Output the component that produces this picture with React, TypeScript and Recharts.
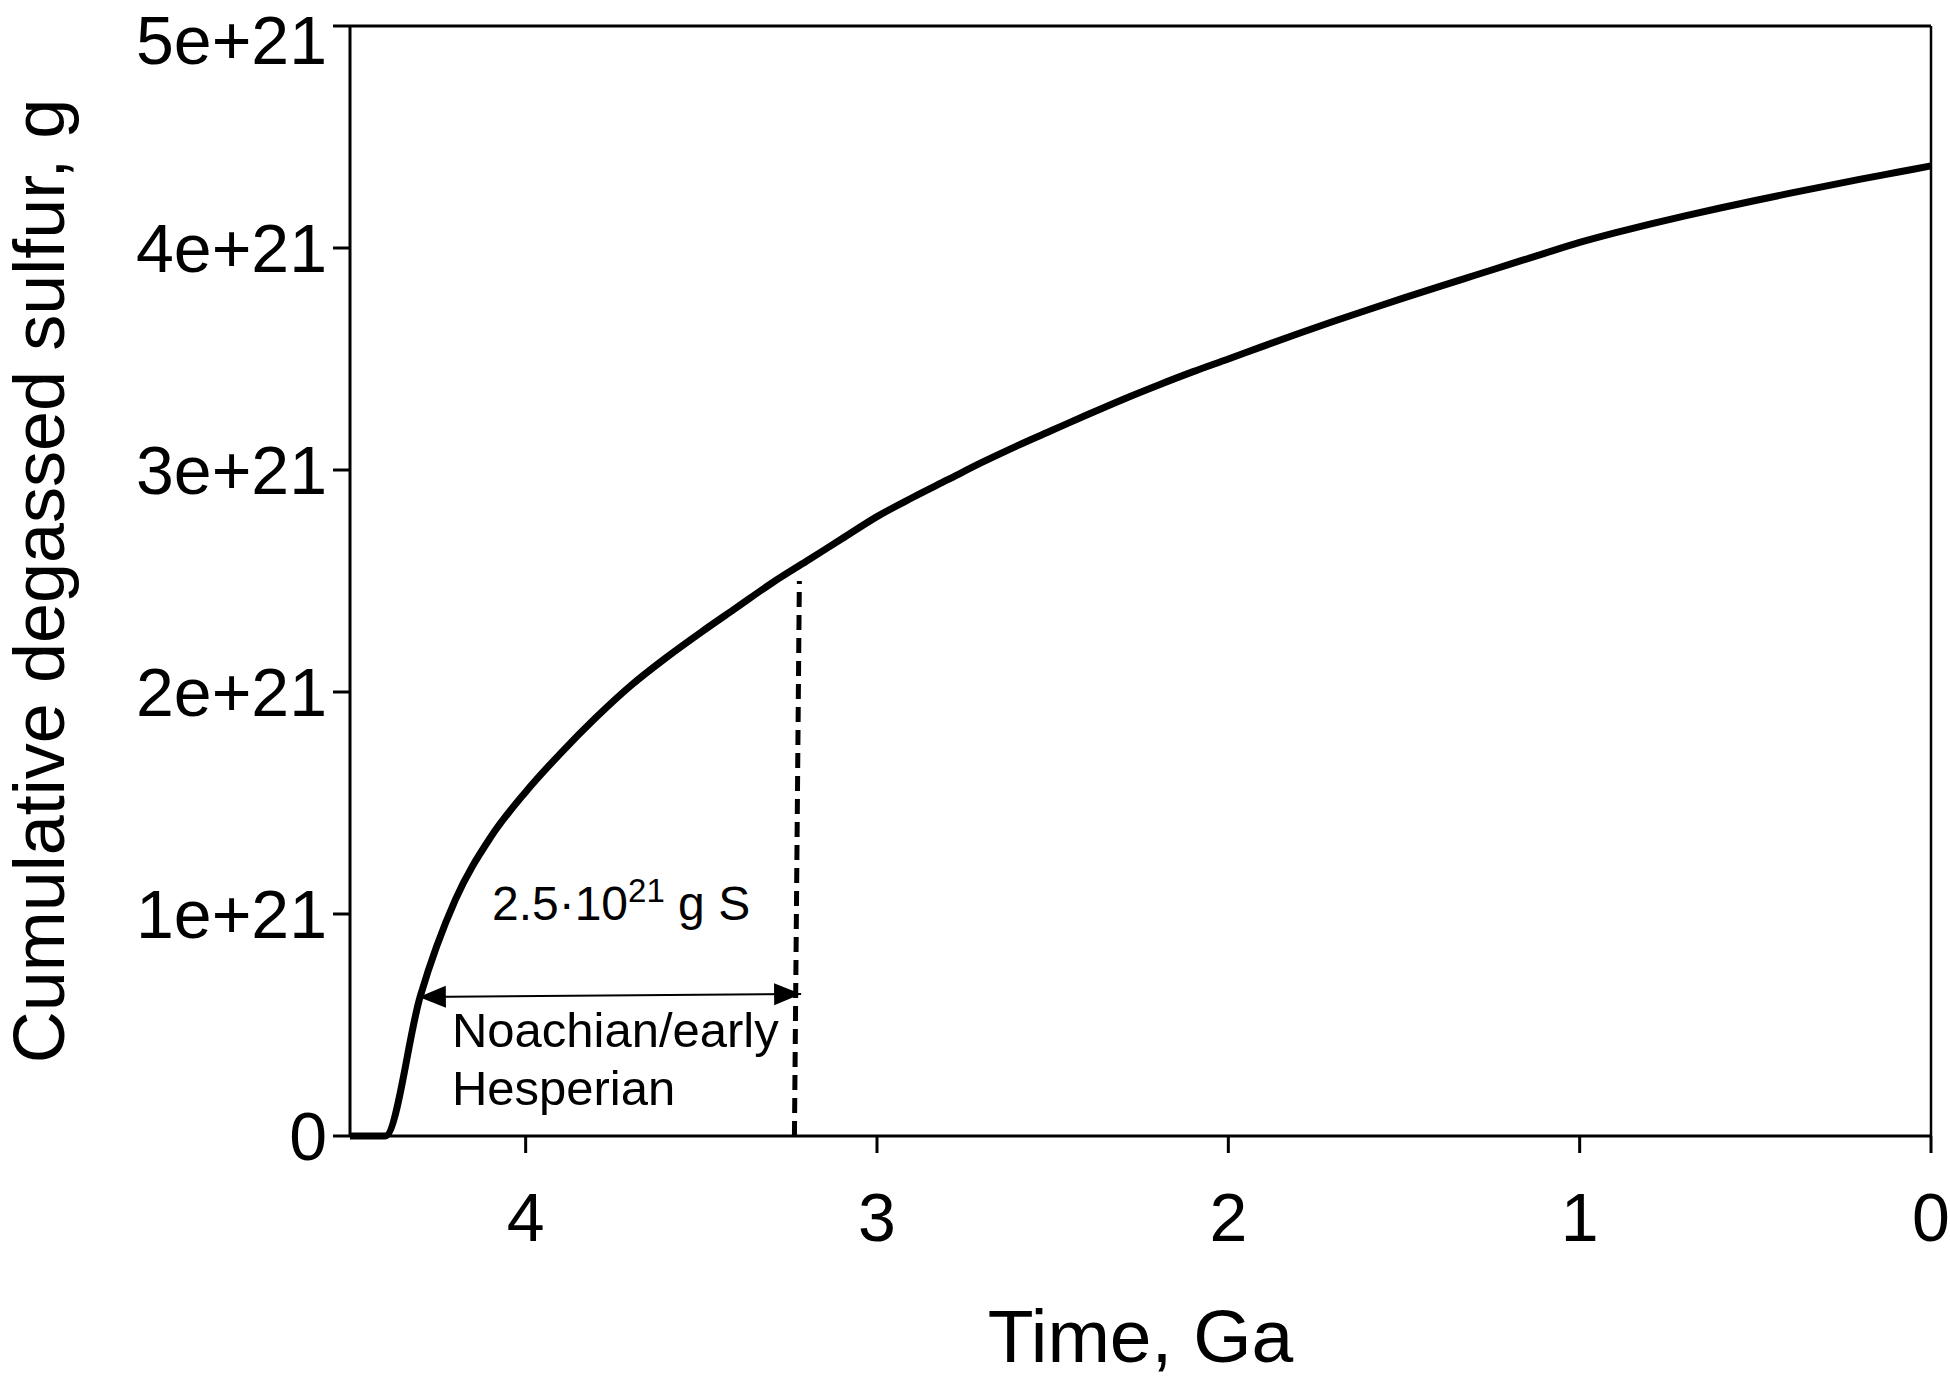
import React from "react";
import {
  LineChart,
  Line,
  XAxis,
  YAxis,
  ReferenceLine,
  ReferenceDot,
  Label,
} from "recharts";

// time before present, Ga (plotted right-to-left)
const timeGa = [
  4.5, 4.4, 4.3, 4.2, 4.1, 4.0, 3.9, 3.8, 3.7, 3.6, 3.5, 3.4, 3.3, 3.2, 3.1, 3.0,
  2.9, 2.8, 2.7, 2.6, 2.5, 2.4, 2.3, 2.2, 2.1, 2.0, 1.9, 1.8, 1.7, 1.6, 1.5,
  1.4, 1.3, 1.2, 1.1, 1.0, 0.9, 0.8, 0.7, 0.6, 0.5, 0.4, 0.3, 0.2, 0.1, 0.0,
];

// cumulative degassed sulfur, units of 1e21 g
const sulfurE21 = [
  0, 0, 0.63, 1.065, 1.345, 1.55, 1.725, 1.885, 2.03, 2.155, 2.27, 2.38, 2.49,
  2.59, 2.69, 2.79, 2.875, 2.955, 3.035, 3.11, 3.18, 3.25, 3.318, 3.382, 3.443,
  3.5, 3.558, 3.615, 3.67, 3.723, 3.775, 3.826, 3.876, 3.926, 3.976, 4.025,
  4.068, 4.108, 4.145, 4.18, 4.214, 4.247, 4.279, 4.31, 4.34, 4.37,
];

const xTicks = [4, 3, 2, 1, 0];
const yTicks = [0, 1, 2, 3, 4, 5];
const yTickLabels = ["0", "1e+21", "2e+21", "3e+21", "4e+21", "5e+21"];

// Noachian / early Hesperian boundary and bracket
const boundaryTime = [3.235, 3.221];
const boundaryTop = 2.5;
const bracketStart = { x: 4.304, y: 0.626 };
const bracketEnd = { x: 3.216, y: 0.64 };
const amountLabelAt = { x: 4.096, y: 0.973 };
const periodLabelAt = [
  { x: 4.21, y: 0.4, text: "Noachian/early" },
  { x: 4.21, y: 0.14, text: "Hesperian" },
];

const data = timeGa.map((t, i) => ({ t, s: sulfurE21[i] }));

const FONT = "'Liberation Sans', Arial, Helvetica, sans-serif";

function ArrowShape(props: any) {
  const { x1, y1, x2, y2 } = props;
  const dx = x2 - x1;
  const dy = y2 - y1;
  const len = Math.sqrt(dx * dx + dy * dy);
  const ux = dx / len;
  const uy = dy / len;
  const hl = 27;
  const hw = 11;
  const head = (tx: number, ty: number, dir: number) => {
    const bx = tx + dir * ux * hl;
    const by = ty + dir * uy * hl;
    return `${tx},${ty} ${bx - uy * hw},${by + ux * hw} ${bx + uy * hw},${by - ux * hw}`;
  };
  return (
    <g>
      <line x1={x1} y1={y1} x2={x2} y2={y2} stroke="#000" strokeWidth={2} />
      <polygon points={head(x1, y1, 1)} fill="#000" />
      <polygon points={head(x2, y2, -1)} fill="#000" />
    </g>
  );
}

export default function App() {
  return (
    <div style={{ position: "absolute", left: 0, top: 0, background: "#fff" }}>
      <LineChart
        width={1950}
        height={1384}
        data={data}
        margin={{ top: 26, right: 19, bottom: 0, left: 0 }}
        style={{ fontFamily: FONT }}
      >
        <XAxis
          dataKey="t"
          type="number"
          domain={[0, 4.5]}
          reversed
          ticks={xTicks}
          height={248}
          tickSize={17}
          tickMargin={40}
          stroke="#000"
          strokeWidth={3}
          tick={{ fill: "#000", fontSize: 68, fontFamily: FONT }}
        >
          <Label
            value="Time, Ga"
            position="insideBottom"
            offset={22}
            style={{ fill: "#000", fontSize: 75, fontFamily: FONT }}
          />
        </XAxis>
        <YAxis
          type="number"
          domain={[0, 5]}
          ticks={yTicks}
          tickFormatter={(v: number) => yTickLabels[yTicks.indexOf(v)]}
          width={350}
          tickSize={17}
          tickMargin={6}
          stroke="#000"
          strokeWidth={3}
          tick={{ fill: "#000", fontSize: 68, fontFamily: FONT }}
        >
          <Label
            value="Cumulative degassed sulfur, g"
            angle={-90}
            position="insideLeft"
            offset={38}
            style={{ fill: "#000", fontSize: 72, fontFamily: FONT, textAnchor: "middle" }}
          />
        </YAxis>

        <ReferenceLine y={5} stroke="#000" strokeWidth={3} />
        <ReferenceLine x={0} stroke="#000" strokeWidth={2.5} />

        <ReferenceLine
          segment={[
            { x: boundaryTime[0], y: 0 },
            { x: boundaryTime[1], y: boundaryTop },
          ]}
          stroke="#000"
          strokeWidth={5}
          strokeDasharray="15 8"
        />
        <ReferenceLine
          segment={[bracketStart, bracketEnd]}
          shape={(p: any) => <ArrowShape {...p} />}
        />

        <ReferenceDot
          x={amountLabelAt.x}
          y={amountLabelAt.y}
          r={0}
          shape={(p: any) => (
            <text x={p.cx} y={p.cy} fontSize={48} fontFamily={FONT} fill="#000">
              2.5·10
              <tspan fontSize={33} dy={-18}>21</tspan>
              <tspan dy={18}> g S</tspan>
            </text>
          )}
        />
        {periodLabelAt.map((l) => (
          <ReferenceDot
            key={l.text}
            x={l.x}
            y={l.y}
            r={0}
            shape={(p: any) => (
              <text x={p.cx} y={p.cy} fontSize={49} fontFamily={FONT} fill="#000">
                {l.text}
              </text>
            )}
          />
        ))}

        <Line
          type="monotone"
          dataKey="s"
          stroke="#000"
          strokeWidth={7}
          dot={false}
          isAnimationActive={false}
        />
      </LineChart>
    </div>
  );
}
